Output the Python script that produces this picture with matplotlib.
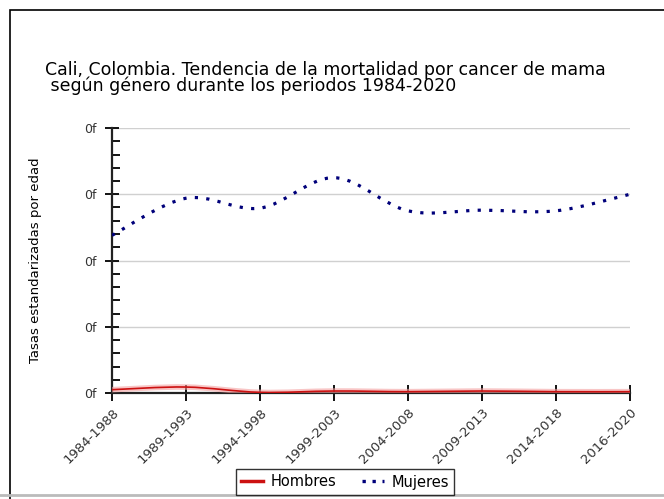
import numpy as np
import matplotlib.pyplot as plt
from matplotlib.path import Path
from matplotlib.patches import PathPatch, Rectangle
from matplotlib.lines import Line2D

# periodos y tasas (escala sin etiquetas reales)
periodos = ["1984-1988", "1989-1993", "1994-1998", "1999-2003",
            "2004-2008", "2009-2013", "2014-2018", "2016-2020"]
hombres = [0.05, 0.09, 0.01, 0.03, 0.02, 0.03, 0.02, 0.02]
mujeres = [2.38, 2.94, 2.79, 3.25, 2.75, 2.76, 2.75, 3.00]
ytick_vals = [0, 1, 2, 3, 4]
ytick_labels = ["0f"] * 5


def smooth_path(x, y):
    # catmull-rom -> bezier, so the line bends like the original
    pts = np.column_stack([x, y]).astype(float)
    ext = np.vstack([pts[0], pts, pts[-1]])
    verts = [pts[0]]
    codes = [Path.MOVETO]
    for i in range(1, len(ext) - 2):
        p0, p1, p2, p3 = ext[i - 1], ext[i], ext[i + 1], ext[i + 2]
        verts += [p1 + (p2 - p0) / 6, p2 - (p3 - p1) / 6, p2]
        codes += [Path.CURVE4] * 3
    return Path(verts, codes)


fig = plt.figure(figsize=(6.64, 4.99), dpi=100)
ax = fig.add_axes([112 / 664, 106 / 499, 518 / 664, 265 / 499])

x = np.arange(len(periodos))

ax.add_patch(PathPatch(smooth_path(x, hombres), fill=False, edgecolor="#f4a0a0",
                       lw=4, alpha=0.6, zorder=3))
ax.add_patch(PathPatch(smooth_path(x, hombres), fill=False, edgecolor="#cc1111",
                       lw=1.2, zorder=4))
ax.add_patch(PathPatch(smooth_path(x, mujeres), fill=False, edgecolor="#00007a",
                       lw=2.3, linestyle=(0, (1, 2.6)), zorder=4))

ax.set_xlim(0, len(periodos) - 1)
ax.set_ylim(0, 4)
ax.set_xticks(x)
ax.set_xticklabels(periodos, rotation=45, ha="right", rotation_mode="anchor",
                   fontsize=9.5, color="#333333")
ax.set_yticks(ytick_vals)
ax.set_yticklabels(ytick_labels, fontsize=9, color="#333333")
ax.set_yticks(np.arange(0, 4, 0.2), minor=True)
ax.tick_params(axis="y", which="major", direction="inout", length=10, width=1.3, pad=6)
ax.tick_params(axis="y", which="minor", direction="in", length=6, width=1.3)
ax.tick_params(axis="x", which="major", direction="inout", length=11, width=1.3, pad=4)
ax.grid(axis="y", color="#d0d0d0", lw=1)
ax.set_axisbelow(True)
for s in ["top", "right"]:
    ax.spines[s].set_visible(False)
for s in ["left", "bottom"]:
    ax.spines[s].set_linewidth(1.6)
    ax.spines[s].set_color("#222222")

ax.set_ylabel("Tasas estandarizadas por edad", fontsize=9.5)
ax.yaxis.set_label_coords(-0.135, 0.5)

fig.text(45 / 664, 1 - 78 / 499,
         "Cali, Colombia. Tendencia de la mortalidad por cancer de mama\n"
         " según género durante los periodos 1984-2020",
         fontsize=12.5, ha="left", va="center", linespacing=0.82)

# marco exterior
fig.patches.append(Rectangle((10 / 664, -0.01), 1.0, 1 - 10 / 499 + 0.01,
                             transform=fig.transFigure, fill=False,
                             edgecolor="black", lw=1.2))
fig.add_artist(Line2D([0, 1], [4 / 499, 4 / 499], color="#bbbbbb", lw=2,
                      transform=fig.transFigure))

handles = [Line2D([], [], color="#cc1111", lw=2.5),
           Line2D([], [], color="#00007a", lw=2.4, linestyle=(0, (1, 2)))]
leg = fig.legend(handles, ["Hombres", "Mujeres"], loc="center",
                 bbox_to_anchor=(345 / 664, 1 - 482 / 499), ncol=2,
                 fontsize=10.5, frameon=True, fancybox=False, handlelength=1.5,
                 handletextpad=0.5, columnspacing=1.8, borderpad=0.35,
                 borderaxespad=0.2)
leg.get_frame().set_edgecolor("black")
leg.get_frame().set_linewidth(1)

fig.savefig("out.png", dpi=100)
